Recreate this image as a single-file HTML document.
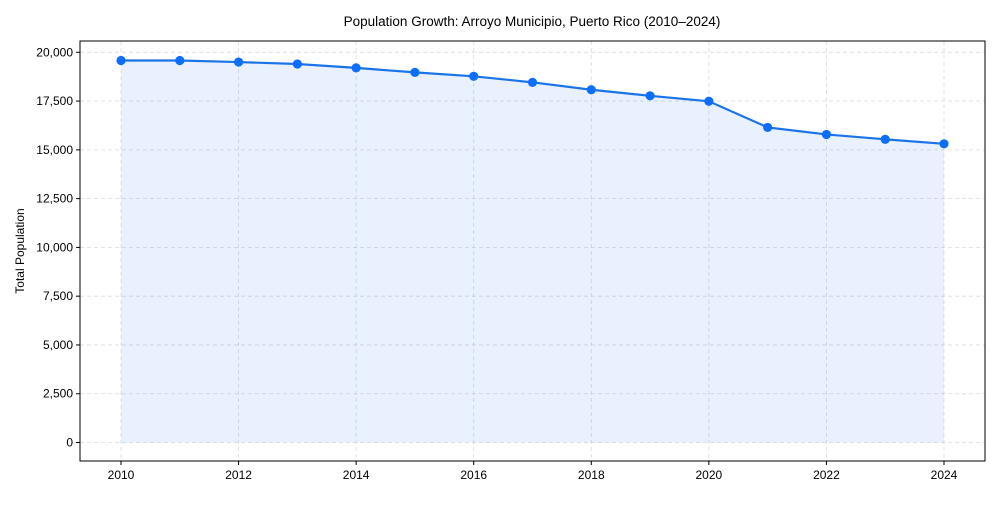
<!DOCTYPE html>
<html><head><meta charset="utf-8"><style>
body{margin:0;background:#fff;font-family:"Liberation Sans",Arial,sans-serif}
svg text{font-family:"Liberation Sans",Arial,sans-serif;fill:#000}
</style></head><body>
<svg id="chart" width="1000" height="500">
<text x="532" y="26" font-size="13.5" text-anchor="middle">Population Growth: Arroyo Municipio, Puerto Rico (2010–2024)</text>
<g id="grid"></g>
<g id="marks"></g>
<rect x="80" y="41" width="905" height="420" fill="none" stroke="#000" stroke-width="1"/>
<g id="axes"></g>
<text transform="translate(24,251) rotate(-90)" font-size="12" text-anchor="middle">Total Population</text>
</svg>
<script>
const years=[2010,2011,2012,2013,2014,2015,2016,2017,2018,2019,2020,2021,2022,2023,2024];
const population=[19580,19580,19500,19400,19200,18970,18770,18460,18080,17770,17490,16150,15790,15540,15310];
const yTicks=[0,2500,5000,7500,10000,12500,15000,17500,20000];
const xTicks=[2010,2012,2014,2016,2018,2020,2022,2024];
const NS="http://www.w3.org/2000/svg";
const x=v=>121+(v-2010)*(944-121)/14;
const y=v=>442.5-v*(442.5-52.3)/20000;
function mk(tag,attrs,parent){const e=document.createElementNS(NS,tag);for(const k in attrs)e.setAttribute(k,attrs[k]);document.getElementById(parent).appendChild(e);return e;}
yTicks.forEach(t=>{
 const g=mk('line',{x1:80,x2:985,y1:y(t),y2:y(t),stroke:'#ccc','stroke-dasharray':'4,3','stroke-width':0.8,opacity:0.7},'grid');
 
 
 mk('line',{x1:76,x2:80,y1:y(t),y2:y(t),stroke:'#000'},'axes');
 const tx=mk('text',{x:73,y:y(t)+4,'font-size':12,'text-anchor':'end'},'axes');
 tx.textContent=t.toLocaleString('en-US');
 
 
});
xTicks.forEach(t=>{
 const g=mk('line',{x1:x(t),x2:x(t),y1:41,y2:461,stroke:'#ccc','stroke-dasharray':'4,3','stroke-width':0.8,opacity:0.7},'grid');
 
 
 mk('line',{x1:x(t),x2:x(t),y1:461,y2:465,stroke:'#000'},'axes');
 const tx=mk('text',{x:x(t),y:479,'font-size':12,'text-anchor':'middle'},'axes');
 tx.textContent=t;
 
 
});
let d='M'+x(years[0])+','+y(0);
years.forEach((yr,i)=>d+=' L'+x(yr)+','+y(population[i]));
d+=' L'+x(years[years.length-1])+','+y(0)+' Z';
const area=mk('path',{d:d,fill:'#1a73e8','fill-opacity':0.1,stroke:'none'},'marks');


const line=mk('polyline',{points:years.map((yr,i)=>x(yr)+','+y(population[i])).join(' '),fill:'none',stroke:'#1a73e8','stroke-width':2.2},'marks');


years.forEach((yr,i)=>{
 const c=mk('circle',{cx:x(yr),cy:y(population[i]),r:4.6,fill:'#0d6efd'},'marks');
 
 
});
</script>
</body></html>
